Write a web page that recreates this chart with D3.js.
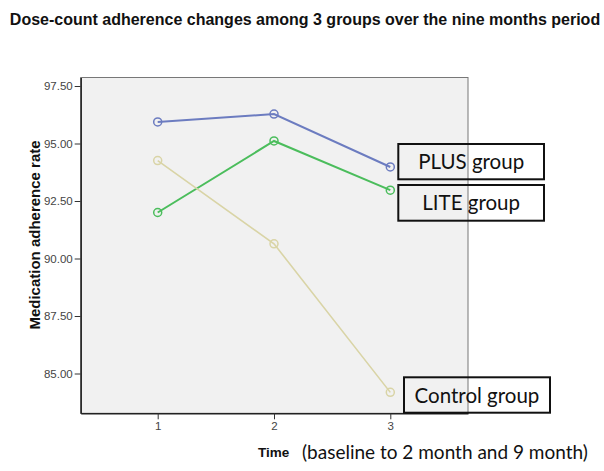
<!DOCTYPE html>
<html><head><meta charset="utf-8">
<script src="https://cdn.jsdelivr.net/npm/d3@7"></script>
<style>body{margin:0;background:#fff}svg{display:block}</style>
</head><body>
<svg id="c" width="604" height="471"></svg>
<script>
const times = [1, 2, 3];
const yTicks = [85, 87.5, 90, 92.5, 95, 97.5];
const plusValues = [95.94, 96.28, 93.98];
const liteValues = [92.0, 95.11, 92.97];
const controlValues = [94.26, 90.64, 84.18];
const seriesNames = ["PLUS group", "LITE group", "Control group"];
const title = "Dose-count adherence changes among 3 groups over the nine months period";

const svg = d3.select("#c");
const L = 80.7, R = 468, T = 77.5, B = 413.3;
const x = d3.scaleLinear().domain([0.338, 3.668]).range([L, R]);
const y = d3.scaleLinear().domain([83.27, 97.87]).range([B, T]);

svg.append("text").attr("x", 305).attr("y", 25).attr("text-anchor", "middle")
  .attr("font-family", "Liberation Sans, Arial").attr("font-weight", "bold")
  .attr("font-size", 16).attr("fill", "#111").text(title);

svg.append("rect").attr("x", L).attr("y", T).attr("width", R - L).attr("height", B - T)
  .attr("fill", "#f1f1f1").attr("stroke", "#777").attr("stroke-width", 1);

const yAxis = svg.append("g").attr("transform", `translate(${L},0)`)
  .call(d3.axisLeft(y).tickValues(yTicks).tickFormat(d3.format(".2f")).tickSize(6).tickSizeOuter(0));
const xAxis = svg.append("g").attr("transform", `translate(0,${B})`)
  .call(d3.axisBottom(x).tickValues(times).tickFormat(d3.format("d")).tickSize(6).tickSizeOuter(0));
[yAxis, xAxis].forEach(a => {
  a.select(".domain").attr("stroke", "#222").attr("stroke-width", 1.5);
  a.selectAll(".tick line").attr("stroke", "#333");
  a.selectAll("text").attr("font-family", "Liberation Sans, Arial").attr("font-size", 11.5).attr("fill", "#444");
});
yAxis.selectAll("text").attr("x", -8);

const series = [
  {name: seriesNames[0], values: plusValues, color: "#6c7cc0", w: 2},
  {name: seriesNames[1], values: liteValues, color: "#4bbd5c", w: 2},
  {name: seriesNames[2], values: controlValues, color: "#d9d4a6", w: 1.6}
];
const line = d3.line().x((d, i) => x(times[i])).y(d => y(d));
series.forEach(s => {
  svg.append("path").attr("d", line(s.values)).attr("fill", "none")
    .attr("stroke", s.color).attr("stroke-width", s.w);
  svg.selectAll(null).data(s.values).enter().append("circle")
    .attr("cx", (d, i) => x(times[i])).attr("cy", d => y(d)).attr("r", 4)
    .attr("fill", "none").attr("stroke", s.color).attr("stroke-width", 1.5);
});

const boxes = [
  {x0: 398.3, x1: 544, y0: 144, y1: 179.3, t: seriesNames[0]},
  {x0: 398.3, x1: 544, y0: 185, y1: 220.7, t: seriesNames[1]},
  {x0: 404, x1: 550, y0: 377.3, y1: 412.7, t: seriesNames[2]}
];
boxes.forEach(b => {
  svg.append("rect").attr("x", b.x0).attr("y", b.y0).attr("width", b.x1 - b.x0).attr("height", b.y1 - b.y0)
    .attr("fill", "none").attr("stroke", "#111").attr("stroke-width", 2);
  svg.append("text").attr("x", (b.x0 + b.x1) / 2).attr("y", (b.y0 + b.y1) / 2 + 7.5)
    .attr("text-anchor", "middle").attr("font-family", "Lato, Carlito, sans-serif")
    .attr("font-size", 20.5).attr("fill", "#111").text(b.t);
});

svg.append("text").attr("transform", `translate(40,235) rotate(-90)`).attr("text-anchor", "middle")
  .attr("font-family", "Liberation Sans, Arial").attr("font-weight", "bold").attr("font-size", 15)
  .attr("fill", "#111").text("Medication adherence rate");

svg.append("text").attr("x", 258).attr("y", 457).attr("font-family", "Liberation Sans, Arial")
  .attr("font-weight", "bold").attr("font-size", 13.5).attr("fill", "#111").text("Time");
svg.append("text").attr("x", 302).attr("y", 459).attr("font-family", "Lato, Carlito, sans-serif")
  .attr("font-size", 19).attr("fill", "#111").text("(baseline to 2 month and 9 month)");
</script>
</body></html>
